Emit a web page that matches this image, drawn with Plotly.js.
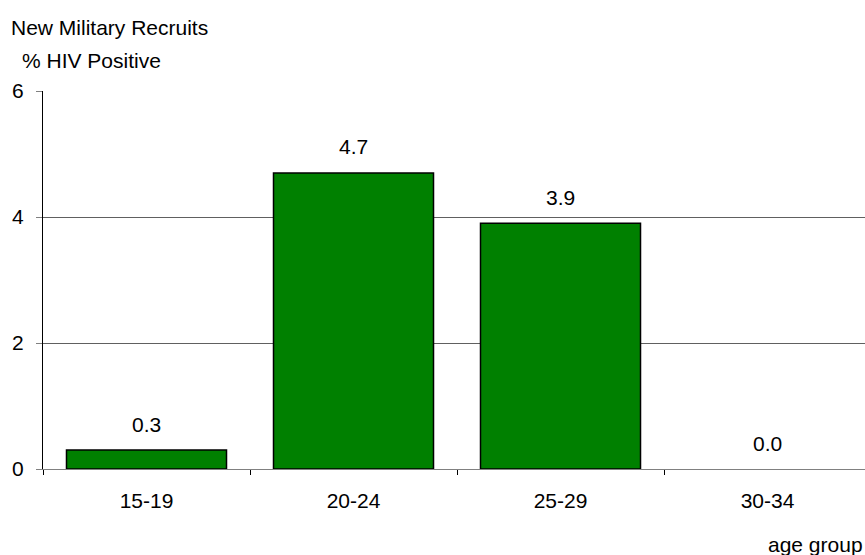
<!DOCTYPE html>
<html>
<head>
<meta charset="utf-8">
<script src="https://cdn.plot.ly/plotly-3.0.1.min.js"></script>
<style>html,body{margin:0;padding:0;background:#fff;}#chart{width:865px;height:555px;}</style>
</head>
<body>
<div id="chart"></div>
<script>
const categories = ["15-19", "20-24", "25-29", "30-34"];
const values = [0.3, 4.7, 3.9, 0.0];
const valueLabels = ["0.3", "4.7", "3.9", "0.0"];
const yTicks = [0, 2, 4, 6];

const font = {family: "Liberation Sans, Arial, sans-serif", size: 21, color: "#000"};

const trace = {
  type: "bar",
  x: categories,
  y: values,
  width: 0.773,
  marker: {color: "#008000", line: {color: "#000", width: values.map(v => v > 0 ? 1.5 : 0)}},
  hoverinfo: "none"
};

const annotations = categories.map((c, i) => ({
  x: c, y: values[i], xref: "x", yref: "y",
  text: valueLabels[i], showarrow: false,
  yanchor: "middle", yshift: 26, font: font
}));
annotations.push({
  xref: "paper", yref: "paper", x: -0.041, y: 1.167, xanchor: "left", yanchor: "middle",
  text: "New Military Recruits", showarrow: false, font: font
});
annotations.push({
  xref: "paper", yref: "paper", x: -0.028, y: 1.082, xanchor: "left", yanchor: "middle",
  text: "% HIV Positive", showarrow: false, font: font
});
annotations.push({
  xref: "paper", yref: "paper", x: 1, y: -0.201, xanchor: "right", yanchor: "middle",
  text: "age group", showarrow: false, font: font
});

const layout = {
  width: 865, height: 555,
  margin: {l: 43, r: 0, t: 91, b: 86},
  paper_bgcolor: "#fff", plot_bgcolor: "#fff",
  font: font,
  showlegend: false,
  xaxis: {
    type: "category",
    range: [-0.5, 3.471],
    tickson: "boundaries",
    ticks: "outside", ticklen: 5, tickcolor: "#000", tickwidth: 1,
    ticklabelstandoff: 13,
    showline: true, linecolor: "#808080", linewidth: 1,
    showgrid: false, zeroline: false,
    tickfont: font
  },
  yaxis: {
    range: [0, 6],
    tickvals: yTicks,
    ticktext: yTicks.map(String),
    ticks: "outside", ticklen: 6, tickcolor: "#808080", tickwidth: 1,
    ticklabelstandoff: 8,
    showline: true, linecolor: "#000", linewidth: 1,
    showgrid: true, gridcolor: "#606060", gridwidth: 1,
    zeroline: false,
    tickfont: font
  },
  annotations: annotations
};

Plotly.newPlot("chart", [trace], layout, {staticPlot: true, displayModeBar: false});
</script>
</body>
</html>
